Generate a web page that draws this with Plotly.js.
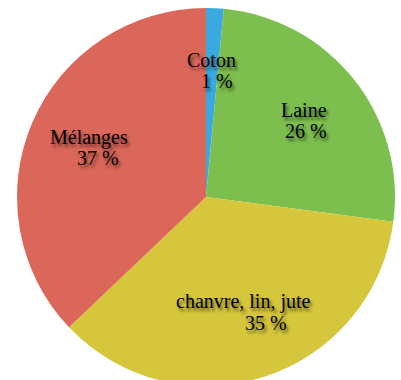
<!DOCTYPE html>
<html>
<head>
<meta charset="utf-8">
<script src="https://cdn.plot.ly/plotly-3.0.1.min.js"></script>
<style>
html,body{margin:0;padding:0;overflow:hidden;background:#fff;}
#chart{width:401px;height:394px;}
</style>
</head>
<body>
<div id="chart"></div>
<script>
// Data
const categories = ["Coton", "Laine", "chanvre, lin, jute", "Mélanges"];
const values = [1.5, 25.6, 35.8, 37.1];
const percentLabels = ["1 %", "26 %", "35 %", "37 %"];
const colors = ["#3aa9df", "#7dbf4e", "#d6c63c", "#da6759"];

// Layout constants
const W = 401, H = 394;
const cx = 206, cy = 197, R = 189;
const labelRadius = [0.67, 0.65, 0.64, 0.66];
const lineGap = 10.5;
const pctShift = [5, 4, 23, 7];
const nameShift = [0, 2, 0, -2];
const fontSpec = {family: "'Liberation Serif', serif", size: 20, color: "#000",
  shadow: "2px 3px 3px rgba(0,0,0,0.55)"};

const total = values.reduce((a, b) => a + b, 0);
const annotations = [];
let cum = 0;
values.forEach((v, i) => {
  const mid = (cum + v / 2) / total * 2 * Math.PI;
  cum += v;
  const bx = cx + labelRadius[i] * R * Math.sin(mid);
  const by = cy - labelRadius[i] * R * Math.cos(mid);
  annotations.push({
    xref: "paper", yref: "paper", showarrow: false,
    x: (bx + nameShift[i]) / W, y: 1 - (by - lineGap) / H,
    xanchor: "center", yanchor: "middle",
    text: categories[i], font: fontSpec
  });
  annotations.push({
    xref: "paper", yref: "paper", showarrow: false,
    x: (bx + pctShift[i]) / W, y: 1 - (by + lineGap) / H,
    xanchor: "center", yanchor: "middle",
    text: percentLabels[i], font: fontSpec
  });
});

const trace = {
  type: "pie",
  labels: categories,
  values: values,
  sort: false,
  direction: "clockwise",
  rotation: 0,
  marker: {colors: colors, line: {width: 0}},
  textinfo: "none",
  hoverinfo: "none",
  domain: {x: [(cx - R) / W, (cx + R) / W], y: [0, 1]}
};

Plotly.newPlot("chart", [trace], {
  width: W, height: H,
  margin: {l: 0, r: 0, t: 0, b: 0, pad: 0},
  showlegend: false,
  paper_bgcolor: "#fff",
  font: {family: "'Liberation Serif', serif"},
  annotations: annotations
}, {staticPlot: true});
</script>
</body>
</html>
